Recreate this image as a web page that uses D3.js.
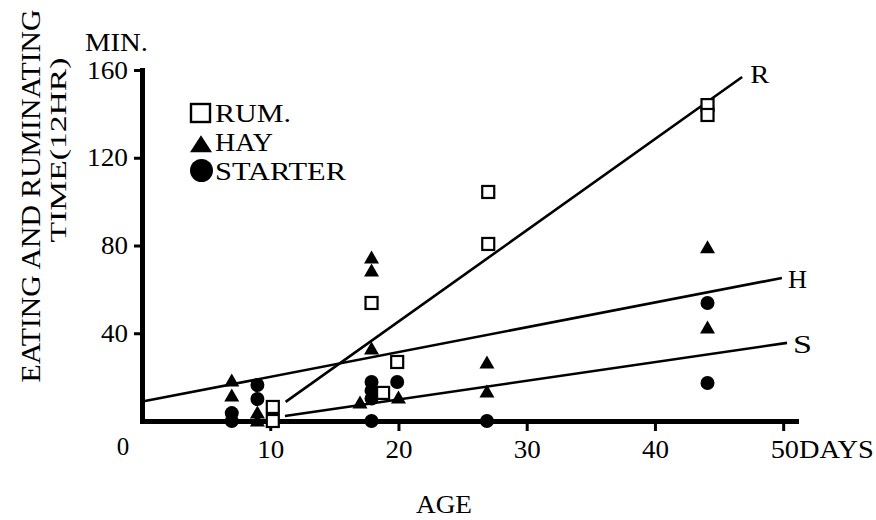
<!DOCTYPE html>
<html><head><meta charset="utf-8">
<script src="https://cdn.jsdelivr.net/npm/d3@7"></script>
<style>body{margin:0;background:#fff}svg{display:block}text{font-family:'Liberation Serif','Times New Roman',serif}</style>
</head><body>
<svg id="c" width="876" height="520"></svg>
<script>
// ---- data ----
const rumDays = [10.2, 10.2, 17.9, 18.8, 19.9, 27.0, 27.0, 44.1, 44.1];
const rumVals = [6.4, 0, 53.8, 12.8, 26.9, 104.4, 80.7, 144, 139.5];
const hayDays = [7.0, 7.0, 9.0, 9.0, 17.9, 17.9, 17.9, 17.0, 20.0, 26.9, 26.9, 44.1, 44.1];
const hayVals = [18.2, 11.4, 3.6, 0, 74.3, 68.4, 32.8, 8.2, 10.5, 26.4, 13.2, 78.9, 42.4];
const starterDays = [7.0, 7.0, 9.0, 9.0, 17.9, 17.9, 17.9, 17.9, 19.9, 26.9, 44.1, 44.1];
const starterVals = [3.6, 0, 16.4, 10.0, 17.8, 13.8, 10.2, 0, 17.8, 0, 53.8, 17.3];
// fitted lines, endpoints [day, minutes]
const lineR = [[11.2, 8.7], [46.8, 156.8]];
const lineH = [[0.23, 9.1], [49.9, 65.2]];
const lineS = [[11.15, 2.3], [50.3, 35.6]];
const lineNames = ["R", "H", "S"];
const yTicks = [40, 80, 120, 160];
const xTicks = [10, 20, 30, 40, 50];
const xTickLabels = ["10", "20", "30", "40", "50DAYS"];
const legendLabels = ["RUM.", "HAY", "STARTER"];

const FONT = "'Liberation Serif', 'Times New Roman', serif";
const svg = d3.select("#c");
const x = d3.scaleLinear().domain([0, 51]).range([142, 796]);
const y = d3.scaleLinear().domain([0, 160]).range([421, 70]);

function txt(sel, size, len) {
  sel.attr("font-family", FONT).style("font-family", FONT).style("font-size", size + "px").attr("fill", "#000");
  if (len) sel.attr("textLength", len).attr("lengthAdjust", "spacingAndGlyphs");
  return sel;
}

// axes
const yAxis = d3.axisLeft(y).tickValues(yTicks).tickSize(8).tickSizeOuter(0).tickPadding(6).tickFormat(d3.format("d"));
const gy = svg.append("g").attr("transform", `translate(${x(0)},0)`).call(yAxis);
const xAxis = d3.axisBottom(x).tickValues(xTicks).tickSize(10).tickSizeOuter(0).tickPadding(9)
  .tickFormat((d, i) => xTickLabels[i]);
const gx = svg.append("g").attr("transform", `translate(0,${y(0)})`).call(xAxis);
[gx, gy].forEach(g => {
  g.attr("font-family", FONT).attr("font-size", 25);
  g.select(".domain").attr("stroke", "#000").attr("stroke-width", 5).attr("stroke-linecap", "square");
  g.selectAll(".tick line").attr("stroke", "#000").attr("stroke-width", 3);
  g.selectAll(".tick text").each(function () { txt(d3.select(this), 25); });
});
gy.selectAll(".tick text").each(function (d) { d3.select(this).attr("textLength", d >= 100 ? 41 : 27).attr("lengthAdjust", "spacingAndGlyphs"); });
gx.selectAll(".tick text").each(function (d, i) {
  const s = d3.select(this);
  if (i === xTicks.length - 1) s.attr("text-anchor", "start").attr("dx", -13).attr("textLength", 103).attr("lengthAdjust", "spacingAndGlyphs");
  else s.attr("textLength", 27).attr("lengthAdjust", "spacingAndGlyphs");
});
txt(svg.append("text").attr("x", 123).attr("y", 455).attr("text-anchor", "middle"), 25).text("0");

// titles
txt(svg.append("text").attr("x", 85).attr("y", 51), 25, 63).text("MIN.");
txt(svg.append("text").attr("x", 444).attr("y", 513).attr("text-anchor", "middle"), 26, 56).text("AGE");
txt(svg.append("text").attr("transform", "translate(40,196) rotate(-90)").attr("text-anchor", "middle"), 28, 373)
  .text("EATING AND RUMINATING");
txt(svg.append("text").attr("transform", "translate(66,150) rotate(-90)").attr("text-anchor", "middle"), 23, 185)
  .text("TIME(12HR)");

// fitted lines
const lg = d3.line().x(d => x(d[0])).y(d => y(d[1]));
[lineR, lineH, lineS].forEach(L => {
  svg.append("path").attr("d", lg(L)).attr("fill", "none").attr("stroke", "#000").attr("stroke-width", 2.6);
});
const labelPos = [[lineR[1], 8, 6], [lineH[1], 6, 10], [lineS[1], 6, 10]];
labelPos.forEach((p, i) => {
  txt(svg.append("text").attr("x", x(p[0][0]) + p[1]).attr("y", y(p[0][1]) + p[2]), 26, 19).text(lineNames[i]);
});

// markers
function tri(cx, cy, w, h) {
  return `M${cx - w / 2},${cy + h * 0.42}L${cx + w / 2},${cy + h * 0.42}L${cx},${cy - h * 0.58}Z`;
}
svg.append("g").selectAll("circle").data(starterDays).join("circle")
  .attr("cx", d => x(d)).attr("cy", (d, i) => y(starterVals[i])).attr("r", 7).attr("fill", "#000");
svg.append("g").selectAll("path").data(hayDays).join("path")
  .attr("d", (d, i) => tri(x(d), y(hayVals[i]), 15, 13)).attr("fill", "#000");
svg.append("g").selectAll("rect").data(rumDays).join("rect")
  .attr("x", d => x(d) - 6).attr("y", (d, i) => y(rumVals[i]) - 6).attr("width", 12).attr("height", 12)
  .attr("fill", "#fff").attr("stroke", "#000").attr("stroke-width", 2.2);

// legend
const leg = svg.append("g");
leg.append("rect").attr("x", 191).attr("y", 104).attr("width", 19).attr("height", 18)
  .attr("fill", "none").attr("stroke", "#000").attr("stroke-width", 2.4);
leg.append("path").attr("d", tri(201, 145, 22, 17)).attr("fill", "#000");
leg.append("circle").attr("cx", 201.5).attr("cy", 170.5).attr("r", 11.5).attr("fill", "#000");
const legY = [122, 151, 180], legW = [76, 58, 131];
legendLabels.forEach((t, i) => {
  txt(leg.append("text").attr("x", 215).attr("y", legY[i]), 26, legW[i]).text(t);
});
</script>
</body></html>
